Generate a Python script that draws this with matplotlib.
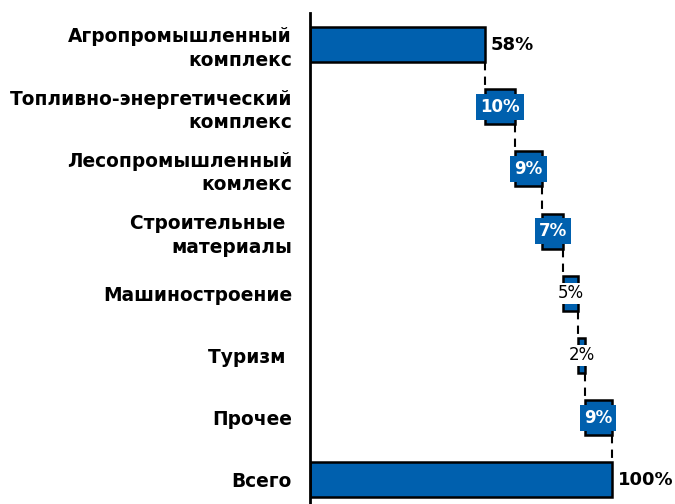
import matplotlib
matplotlib.use("Agg")
import matplotlib.pyplot as plt
import numpy as np

# data
categories = ["Агропромышленный\nкомплекс", "Топливно-энергетический\nкомплекс",
              "Лесопромышленный\nкомлекс", "Строительные \nматериалы",
              "Машиностроение", "Туризм ", "Прочее", "Всего"]
values = [58, 10, 9, 7, 5, 2, 9, 100]
labels = ["58%", "10%", "9%", "7%", "5%", "2%", "9%", "100%"]
is_total = [True, False, False, False, False, False, False, True]

blue = "#0060AE"

# bar starts for the waterfall
starts = []
running = 0
for v, tot in zip(values, is_total):
    if tot:
        starts.append(0)
        running = v
    else:
        starts.append(running)
        running += v

fig = plt.figure(figsize=(6.75, 5.04), dpi=100)
ax = fig.add_axes([310 / 675, -7 / 504, 1 - 310 / 675, 497.6 / 504])

y = np.arange(len(values))
bar_h = 0.56
ax.barh(y, values, left=starts, height=bar_h, color=blue,
        edgecolor="black", linewidth=1.8, zorder=2)

# dashed connectors between bars
for i in range(len(values) - 1):
    x = starts[i] + values[i]
    ax.plot([x, x], [y[i] + bar_h / 2, y[i + 1] - bar_h / 2],
            color="black", linestyle=(0, (4, 3)), linewidth=1.5, zorder=1)

# value labels
for i, (v, s, lab) in enumerate(zip(values, starts, labels)):
    if is_total[i]:
        ax.text(s + v + 2, y[i], lab, ha="left", va="center",
                fontsize=13, fontweight="bold", color="black")
    elif v >= 7:
        ax.text(s + v / 2, y[i], lab, ha="center", va="center",
                fontsize=12, fontweight="bold", color="white", zorder=3,
                bbox=dict(boxstyle="square,pad=0.25", facecolor=blue,
                          edgecolor="none"))
    else:
        ax.text(s + v / 2, y[i], lab, ha="center", va="center",
                fontsize=12, color="black", zorder=3,
                bbox=dict(boxstyle="square,pad=0.1", facecolor="white",
                          edgecolor="none"))

ax.set_xlim(0, 121)
ax.set_ylim(len(values) - 0.5, -0.5)
ax.set_yticks(y)
ax.set_yticklabels(categories, fontsize=13.4, fontweight="bold",
                   linespacing=1.3)
ax.tick_params(axis="y", length=0, pad=13)
ax.set_xticks([])
for side in ["top", "right", "bottom"]:
    ax.spines[side].set_visible(False)
ax.spines["left"].set_linewidth(2)

fig.savefig("out.png", dpi=100)
